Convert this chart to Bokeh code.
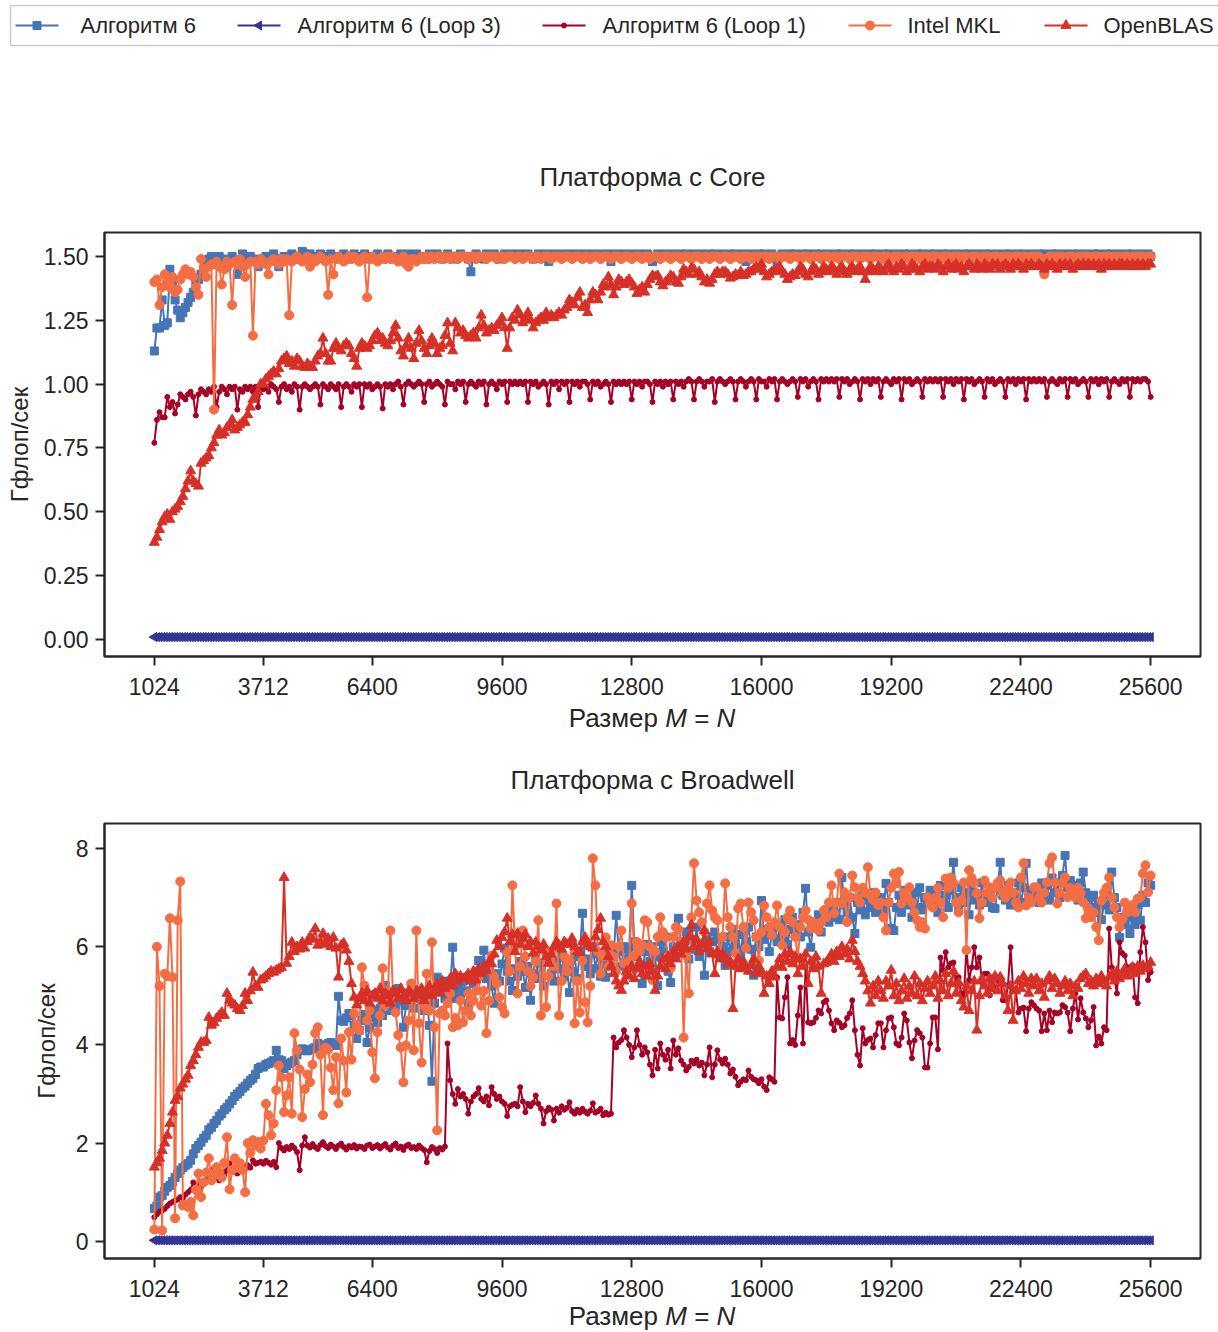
import math
from bokeh.plotting import figure
from bokeh.models import (ColumnDataSource, Range1d, FixedTicker, PrintfTickFormatter, Div)
from bokeh.core.properties import value
from bokeh.layouts import column
from bokeh.embed import file_html
from bokeh.resources import INLINE

FONT = "Liberation Sans"
INK = "#262626"

# Matrix sizes M = N
sizes = list(range(1024, 25601, 64))
x_ticks = [1024, 3712, 6400, 9600, 12800, 16000, 19200, 22400, 25600]

series_names = ["Алгоритм 6", "Алгоритм 6 (Loop 3)", "Алгоритм 6 (Loop 1)", "Intel MKL", "OpenBLAS"]
colors = ["#4575b4", "#313695", "#a50026", "#f46d43", "#d73027"]
markers = ["square", "triangle", "circle", "circle", "triangle"]
marker_sizes = [8, 9, 5, 9, 10]
marker_angles = [0, math.pi / 2, 0, 0, 0]

# ---------------- Core platform, GFlop/s ----------------
core_alg6 = [
    1.13, 1.22, 1.22, 1.33, 1.23, 1.24, 1.45, 1.40, 1.33, 1.29, 1.26, 1.28, 1.30, 1.32, 1.34, 1.36, 1.39, 1.41, 1.43, 1.45,
    1.47, 1.49, 1.50, 1.49, 1.47, 1.50, 1.49, 1.48, 1.46, 1.49, 1.50, 1.48, 1.43, 1.47, 1.51, 1.50, 1.49, 1.50, 1.48, 1.49,
    1.46, 1.48, 1.49, 1.50, 1.49, 1.50, 1.51, 1.49, 1.46, 1.49, 1.50, 1.50, 1.49, 1.51, 1.50, 1.49, 1.50, 1.52, 1.51, 1.50,
    1.51, 1.50, 1.49, 1.50, 1.51, 1.50, 1.49, 1.50, 1.51, 1.50, 1.50, 1.49, 1.50, 1.51, 1.50, 1.49, 1.50, 1.51, 1.50, 1.50,
    1.50, 1.51, 1.50, 1.49, 1.50, 1.50, 1.51, 1.50, 1.49, 1.50, 1.51, 1.50, 1.50, 1.49, 1.50, 1.51, 1.50, 1.50, 1.51, 1.50,
    1.50, 1.51, 1.50, 1.50, 1.49, 1.50, 1.51, 1.50, 1.50, 1.51, 1.50, 1.49, 1.50, 1.51, 1.50, 1.50, 1.49, 1.50, 1.51, 1.50,
    1.50, 1.49, 1.44, 1.50, 1.51, 1.50, 1.50, 1.49, 1.51, 1.50, 1.50, 1.51, 1.50, 1.49, 1.50, 1.51, 1.50, 1.50, 1.51, 1.50,
    1.50, 1.51, 1.50, 1.50, 1.51, 1.50, 1.49, 1.50, 1.51, 1.50, 1.50, 1.51, 1.48, 1.50, 1.51, 1.50, 1.50, 1.51, 1.50, 1.50,
    1.51, 1.50, 1.50, 1.51, 1.50, 1.50, 1.51, 1.50, 1.50, 1.51, 1.50, 1.50, 1.51, 1.50, 1.50, 1.51, 1.48, 1.50, 1.51, 1.50,
    1.50, 1.51, 1.50, 1.50, 1.51, 1.50, 1.50, 1.51, 1.50, 1.50, 1.51, 1.50, 1.48, 1.50, 1.51, 1.50, 1.50, 1.51, 1.50, 1.50,
    1.51, 1.50, 1.50, 1.51, 1.50, 1.51, 1.50, 1.50, 1.51, 1.50, 1.50, 1.51, 1.50, 1.50, 1.51, 1.50, 1.51, 1.50, 1.50, 1.51,
    1.50, 1.50, 1.51, 1.50, 1.51, 1.50, 1.50, 1.51, 1.48, 1.50, 1.51, 1.50, 1.50, 1.51, 1.50, 1.51, 1.50, 1.50, 1.51, 1.50,
    1.48, 1.50, 1.51, 1.50, 1.50, 1.51, 1.50, 1.51, 1.50, 1.50, 1.51, 1.50, 1.51, 1.50, 1.50, 1.51, 1.50, 1.51, 1.50, 1.50,
    1.51, 1.50, 1.50, 1.51, 1.50, 1.51, 1.50, 1.50, 1.51, 1.50, 1.51, 1.50, 1.50, 1.51, 1.50, 1.50, 1.51, 1.50, 1.51, 1.50,
    1.50, 1.51, 1.50, 1.51, 1.50, 1.50, 1.51, 1.50, 1.50, 1.51, 1.50, 1.51, 1.50, 1.50, 1.51, 1.50, 1.51, 1.50, 1.50, 1.51,
    1.50, 1.51, 1.50, 1.50, 1.51, 1.50, 1.51, 1.50, 1.50, 1.51, 1.50, 1.50, 1.51, 1.50, 1.51, 1.50, 1.50, 1.51, 1.50, 1.50,
    1.51, 1.50, 1.51, 1.50, 1.50, 1.51, 1.50, 1.50, 1.51, 1.50, 1.51, 1.50, 1.50, 1.51, 1.50, 1.51, 1.50, 1.50, 1.51, 1.50,
    1.50, 1.51, 1.50, 1.51, 1.50, 1.50, 1.51, 1.50, 1.51, 1.50, 1.50, 1.51, 1.50, 1.50, 1.51, 1.50, 1.51, 1.50, 1.50, 1.51,
    1.50, 1.50, 1.51, 1.50, 1.51, 1.50, 1.50, 1.51, 1.50, 1.51, 1.50, 1.50, 1.51, 1.50, 1.50, 1.51, 1.50, 1.51, 1.50, 1.50,
    1.51, 1.50, 1.50, 1.51, 1.50,
]

core_loop3 = [
    0.009, 0.009, 0.009, 0.009, 0.009, 0.009, 0.009, 0.009, 0.009, 0.009, 0.009, 0.009, 0.009, 0.009, 0.009, 0.009, 0.009, 0.009, 0.009, 0.009,
    0.009, 0.009, 0.009, 0.009, 0.009, 0.009, 0.009, 0.009, 0.009, 0.009, 0.009, 0.009, 0.009, 0.009, 0.009, 0.009, 0.009, 0.009, 0.009, 0.009,
    0.009, 0.009, 0.009, 0.009, 0.009, 0.009, 0.009, 0.009, 0.009, 0.009, 0.009, 0.009, 0.009, 0.009, 0.009, 0.009, 0.009, 0.009, 0.009, 0.009,
    0.009, 0.009, 0.009, 0.009, 0.009, 0.009, 0.009, 0.009, 0.009, 0.009, 0.009, 0.009, 0.009, 0.009, 0.009, 0.009, 0.009, 0.009, 0.009, 0.009,
    0.009, 0.009, 0.009, 0.009, 0.009, 0.009, 0.009, 0.009, 0.009, 0.009, 0.009, 0.009, 0.009, 0.009, 0.009, 0.009, 0.009, 0.009, 0.009, 0.009,
    0.009, 0.009, 0.009, 0.009, 0.009, 0.009, 0.009, 0.009, 0.009, 0.009, 0.009, 0.009, 0.009, 0.009, 0.009, 0.009, 0.009, 0.009, 0.009, 0.009,
    0.009, 0.009, 0.009, 0.009, 0.009, 0.009, 0.009, 0.009, 0.009, 0.009, 0.009, 0.009, 0.009, 0.009, 0.009, 0.009, 0.009, 0.009, 0.009, 0.009,
    0.009, 0.009, 0.009, 0.009, 0.009, 0.009, 0.009, 0.009, 0.009, 0.009, 0.009, 0.009, 0.009, 0.009, 0.009, 0.009, 0.009, 0.009, 0.009, 0.009,
    0.009, 0.009, 0.009, 0.009, 0.009, 0.009, 0.009, 0.009, 0.009, 0.009, 0.009, 0.009, 0.009, 0.009, 0.009, 0.009, 0.009, 0.009, 0.009, 0.009,
    0.009, 0.009, 0.009, 0.009, 0.009, 0.009, 0.009, 0.009, 0.009, 0.009, 0.009, 0.009, 0.009, 0.009, 0.009, 0.009, 0.009, 0.009, 0.009, 0.009,
    0.009, 0.009, 0.009, 0.009, 0.009, 0.009, 0.009, 0.009, 0.009, 0.009, 0.009, 0.009, 0.009, 0.009, 0.009, 0.009, 0.009, 0.009, 0.009, 0.009,
    0.009, 0.009, 0.009, 0.009, 0.009, 0.009, 0.009, 0.009, 0.009, 0.009, 0.009, 0.009, 0.009, 0.009, 0.009, 0.009, 0.009, 0.009, 0.009, 0.009,
    0.009, 0.009, 0.009, 0.009, 0.009, 0.009, 0.009, 0.009, 0.009, 0.009, 0.009, 0.009, 0.009, 0.009, 0.009, 0.009, 0.009, 0.009, 0.009, 0.009,
    0.009, 0.009, 0.009, 0.009, 0.009, 0.009, 0.009, 0.009, 0.009, 0.009, 0.009, 0.009, 0.009, 0.009, 0.009, 0.009, 0.009, 0.009, 0.009, 0.009,
    0.009, 0.009, 0.009, 0.009, 0.009, 0.009, 0.009, 0.009, 0.009, 0.009, 0.009, 0.009, 0.009, 0.009, 0.009, 0.009, 0.009, 0.009, 0.009, 0.009,
    0.009, 0.009, 0.009, 0.009, 0.009, 0.009, 0.009, 0.009, 0.009, 0.009, 0.009, 0.009, 0.009, 0.009, 0.009, 0.009, 0.009, 0.009, 0.009, 0.009,
    0.009, 0.009, 0.009, 0.009, 0.009, 0.009, 0.009, 0.009, 0.009, 0.009, 0.009, 0.009, 0.009, 0.009, 0.009, 0.009, 0.009, 0.009, 0.009, 0.009,
    0.009, 0.009, 0.009, 0.009, 0.009, 0.009, 0.009, 0.009, 0.009, 0.009, 0.009, 0.009, 0.009, 0.009, 0.009, 0.009, 0.009, 0.009, 0.009, 0.009,
    0.009, 0.009, 0.009, 0.009, 0.009, 0.009, 0.009, 0.009, 0.009, 0.009, 0.009, 0.009, 0.009, 0.009, 0.009, 0.009, 0.009, 0.009, 0.009, 0.009,
    0.009, 0.009, 0.009, 0.009, 0.009,
]

core_loop1 = [
    0.77, 0.86, 0.89, 0.87, 0.87, 0.95, 0.91, 0.93, 0.885, 0.92, 0.96, 0.95, 0.94, 0.96, 0.97, 0.95, 0.877, 0.96, 0.98, 0.97,
    0.96, 0.98, 0.97, 0.99, 0.91, 0.97, 0.99, 0.98, 0.96, 0.99, 0.98, 0.99, 0.90, 0.98, 0.97, 0.99, 0.98, 0.99, 0.97, 0.99,
    0.91, 0.99, 0.98, 0.99, 0.97, 1.00, 0.99, 0.98, 0.93, 0.99, 1.00, 0.98, 0.99, 0.97, 1.00, 0.99, 0.90, 0.99, 1.00, 0.99,
    0.98, 0.99, 1.00, 0.99, 0.92, 1.00, 0.99, 0.98, 1.00, 0.99, 0.98, 1.00, 0.91, 0.99, 1.00, 0.99, 0.97, 1.00, 0.99, 1.00,
    0.91, 1.00, 0.99, 1.00, 0.98, 0.99, 1.00, 0.99, 0.905, 1.00, 0.99, 1.00, 0.98, 1.00, 1.01, 0.99, 0.92, 1.00, 1.01, 1.00,
    0.99, 1.00, 1.01, 1.00, 0.93, 1.00, 1.01, 0.99, 1.00, 1.01, 1.00, 0.99, 0.92, 1.01, 1.00, 1.00, 0.98, 1.01, 1.00, 1.01,
    0.93, 1.00, 1.01, 1.00, 0.99, 1.01, 1.00, 1.01, 0.92, 1.00, 1.01, 1.00, 0.98, 1.01, 1.00, 1.01, 0.93, 1.01, 1.00, 1.01,
    1.00, 1.01, 1.00, 1.01, 0.93, 1.01, 1.00, 1.01, 0.99, 1.00, 1.01, 1.00, 0.92, 1.01, 1.00, 1.01, 0.98, 1.01, 1.00, 1.01,
    0.93, 1.01, 1.00, 1.01, 0.99, 1.01, 1.01, 1.00, 0.94, 1.01, 1.00, 1.01, 0.99, 1.00, 1.01, 1.00, 0.93, 1.01, 1.00, 1.01,
    1.00, 1.01, 1.00, 1.01, 0.94, 1.01, 1.00, 1.01, 0.99, 1.01, 1.01, 1.00, 0.93, 1.01, 1.00, 1.01, 0.99, 1.01, 1.00, 1.01,
    0.94, 1.01, 1.00, 1.01, 0.99, 1.01, 1.02, 1.01, 0.94, 1.01, 1.02, 1.01, 0.99, 1.01, 1.01, 1.02, 0.93, 1.01, 1.02, 1.01,
    1.00, 1.01, 1.02, 1.01, 0.94, 1.01, 1.02, 1.01, 0.99, 1.01, 1.02, 1.01, 0.94, 1.02, 1.01, 1.01, 0.99, 1.02, 1.01, 1.02,
    0.94, 1.01, 1.02, 1.01, 1.00, 1.01, 1.02, 1.01, 0.95, 1.02, 1.01, 1.02, 0.99, 1.01, 1.02, 1.01, 0.94, 1.02, 1.01, 1.02,
    1.01, 1.02, 1.01, 1.02, 0.95, 1.02, 1.01, 1.02, 1.00, 1.01, 1.02, 1.01, 0.94, 1.02, 1.01, 1.02, 1.00, 1.02, 1.01, 1.02,
    0.95, 1.01, 1.02, 1.01, 1.00, 1.02, 1.01, 1.02, 0.94, 1.02, 1.01, 1.02, 1.00, 1.01, 1.02, 1.01, 0.95, 1.02, 1.01, 1.02,
    1.01, 1.02, 1.01, 1.02, 0.95, 1.02, 1.01, 1.02, 1.00, 1.02, 1.01, 1.02, 0.94, 1.02, 1.01, 1.02, 1.00, 1.01, 1.02, 1.01,
    0.95, 1.02, 1.01, 1.02, 1.00, 1.01, 1.02, 1.01, 0.95, 1.02, 1.01, 1.02, 1.00, 1.02, 1.01, 1.02, 0.94, 1.02, 1.01, 1.02,
    1.01, 1.02, 1.01, 1.02, 0.95, 1.01, 1.02, 1.01, 1.00, 1.02, 1.01, 1.02, 0.95, 1.02, 1.01, 1.02, 1.00, 1.01, 1.02, 1.01,
    0.95, 1.02, 1.01, 1.02, 1.00, 1.02, 1.01, 1.02, 0.95, 1.01, 1.02, 1.01, 1.00, 1.02, 1.01, 1.02, 0.95, 1.02, 1.01, 1.02,
    1.01, 1.02, 1.02, 1.01, 0.95,
]

core_mkl = [
    1.40, 1.41, 1.31, 1.38, 1.43, 1.40, 1.38, 1.42, 1.36, 1.37, 1.41, 1.43, 1.45, 1.43, 1.44, 1.42, 1.38, 1.35, 1.49, 1.45,
    1.42, 1.46, 1.47, 0.90, 1.48, 1.46, 1.39, 1.45, 1.48, 1.47, 1.31, 1.48, 1.47, 1.49, 1.46, 1.42, 1.47, 1.48, 1.19, 1.48,
    1.47, 1.49, 1.48, 1.47, 1.43, 1.48, 1.49, 1.48, 1.47, 1.49, 1.48, 1.49, 1.27, 1.48, 1.49, 1.50, 1.49, 1.48, 1.49, 1.50,
    1.46, 1.49, 1.48, 1.49, 1.50, 1.49, 1.48, 1.35, 1.49, 1.43, 1.49, 1.50, 1.49, 1.48, 1.49, 1.50, 1.49, 1.50, 1.49, 1.48,
    1.49, 1.50, 1.34, 1.49, 1.50, 1.49, 1.48, 1.49, 1.50, 1.49, 1.50, 1.49, 1.50, 1.49, 1.48, 1.49, 1.50, 1.47, 1.46, 1.49,
    1.49, 1.48, 1.49, 1.50, 1.49, 1.50, 1.49, 1.50, 1.49, 1.50, 1.50, 1.49, 1.50, 1.50, 1.49, 1.50, 1.50, 1.49, 1.50, 1.50,
    1.50, 1.49, 1.50, 1.50, 1.49, 1.50, 1.50, 1.50, 1.49, 1.50, 1.50, 1.50, 1.49, 1.50, 1.50, 1.49, 1.50, 1.50, 1.50, 1.49,
    1.50, 1.50, 1.49, 1.50, 1.50, 1.50, 1.49, 1.50, 1.50, 1.49, 1.50, 1.50, 1.50, 1.49, 1.50, 1.50, 1.50, 1.49, 1.50, 1.50,
    1.50, 1.49, 1.50, 1.50, 1.50, 1.49, 1.50, 1.50, 1.49, 1.50, 1.50, 1.50, 1.49, 1.50, 1.50, 1.50, 1.49, 1.50, 1.50, 1.50,
    1.49, 1.50, 1.50, 1.50, 1.49, 1.50, 1.50, 1.50, 1.49, 1.50, 1.50, 1.49, 1.50, 1.50, 1.50, 1.49, 1.50, 1.50, 1.50, 1.49,
    1.50, 1.50, 1.50, 1.49, 1.50, 1.50, 1.50, 1.49, 1.50, 1.50, 1.50, 1.49, 1.50, 1.50, 1.49, 1.50, 1.50, 1.50, 1.49, 1.50,
    1.50, 1.50, 1.49, 1.50, 1.50, 1.50, 1.49, 1.50, 1.50, 1.50, 1.49, 1.50, 1.50, 1.50, 1.49, 1.50, 1.50, 1.49, 1.50, 1.50,
    1.50, 1.49, 1.50, 1.50, 1.50, 1.49, 1.50, 1.50, 1.50, 1.49, 1.50, 1.50, 1.50, 1.49, 1.50, 1.50, 1.50, 1.49, 1.50, 1.50,
    1.50, 1.49, 1.50, 1.50, 1.49, 1.50, 1.50, 1.50, 1.49, 1.50, 1.50, 1.50, 1.49, 1.50, 1.50, 1.50, 1.49, 1.50, 1.50, 1.50,
    1.49, 1.50, 1.50, 1.50, 1.49, 1.50, 1.50, 1.50, 1.49, 1.50, 1.50, 1.49, 1.50, 1.50, 1.50, 1.49, 1.50, 1.50, 1.50, 1.49,
    1.50, 1.50, 1.50, 1.49, 1.50, 1.50, 1.50, 1.49, 1.50, 1.50, 1.50, 1.49, 1.50, 1.50, 1.49, 1.50, 1.50, 1.50, 1.49, 1.50,
    1.50, 1.50, 1.49, 1.50, 1.50, 1.50, 1.49, 1.50, 1.50, 1.50, 1.49, 1.50, 1.50, 1.50, 1.49, 1.50, 1.50, 1.49, 1.50, 1.50,
    1.50, 1.50, 1.49, 1.43, 1.49, 1.50, 1.50, 1.49, 1.50, 1.50, 1.50, 1.49, 1.50, 1.50, 1.50, 1.49, 1.50, 1.50, 1.50, 1.50,
    1.50, 1.49, 1.50, 1.50, 1.50, 1.49, 1.50, 1.50, 1.50, 1.49, 1.50, 1.50, 1.49, 1.50, 1.50, 1.50, 1.49, 1.50, 1.50, 1.50,
    1.50, 1.50, 1.49, 1.50, 1.50,
]

core_blas = [
    0.38, 0.40, 0.43, 0.46, 0.48, 0.49, 0.47, 0.50, 0.51, 0.52, 0.54, 0.56, 0.59, 0.62, 0.66, 0.62, 0.61, 0.60, 0.69, 0.70,
    0.71, 0.72, 0.75, 0.77, 0.80, 0.82, 0.80, 0.81, 0.83, 0.84, 0.86, 0.82, 0.83, 0.84, 0.85, 0.85, 0.88, 0.91, 0.94, 0.95,
    0.97, 1.00, 1.00, 1.02, 1.03, 1.04, 1.05, 1.04, 1.06, 1.09, 1.10, 1.11, 1.08, 1.09, 1.07, 1.10, 1.09, 1.07, 1.065, 1.08,
    1.07, 1.065, 1.09, 1.11, 1.12, 1.18, 1.12, 1.09, 1.09, 1.14, 1.16, 1.14, 1.13, 1.15, 1.16, 1.15, 1.12, 1.10, 1.07, 1.14,
    1.16, 1.15, 1.14, 1.15, 1.17, 1.19, 1.20, 1.17, 1.18, 1.16, 1.15, 1.17, 1.20, 1.23, 1.18, 1.13, 1.11, 1.15, 1.18, 1.14,
    1.10, 1.16, 1.21, 1.17, 1.14, 1.12, 1.15, 1.18, 1.16, 1.12, 1.14, 1.15, 1.19, 1.24, 1.16, 1.13, 1.24, 1.22, 1.20, 1.21,
    1.19, 1.18, 1.19, 1.20, 1.18, 1.22, 1.27, 1.23, 1.20, 1.21, 1.22, 1.21, 1.23, 1.24, 1.26, 1.22, 1.14, 1.22, 1.26, 1.25,
    1.29, 1.27, 1.24, 1.26, 1.28, 1.25, 1.22, 1.24, 1.25, 1.26, 1.25, 1.28, 1.26, 1.27, 1.26, 1.27, 1.28, 1.27, 1.29, 1.30,
    1.33, 1.32, 1.31, 1.34, 1.36, 1.30, 1.31, 1.28, 1.33, 1.36, 1.35, 1.33, 1.36, 1.39, 1.38, 1.42, 1.39, 1.35, 1.38, 1.41,
    1.40, 1.39, 1.40, 1.41, 1.395, 1.38, 1.355, 1.37, 1.38, 1.36, 1.39, 1.41, 1.425, 1.42, 1.425, 1.40, 1.385, 1.40, 1.41, 1.425,
    1.42, 1.40, 1.395, 1.42, 1.45, 1.44, 1.43, 1.455, 1.45, 1.43, 1.44, 1.42, 1.40, 1.41, 1.395, 1.41, 1.43, 1.44, 1.43, 1.44,
    1.44, 1.43, 1.415, 1.42, 1.43, 1.425, 1.44, 1.425, 1.43, 1.44, 1.44, 1.45, 1.46, 1.45, 1.47, 1.44, 1.42, 1.43, 1.44, 1.445,
    1.45, 1.46, 1.44, 1.43, 1.41, 1.42, 1.43, 1.425, 1.44, 1.46, 1.45, 1.43, 1.42, 1.44, 1.46, 1.45, 1.43, 1.44, 1.46, 1.45,
    1.44, 1.46, 1.45, 1.43, 1.45, 1.46, 1.44, 1.43, 1.45, 1.46, 1.44, 1.45, 1.46, 1.44, 1.41, 1.44, 1.46, 1.45, 1.44, 1.46,
    1.45, 1.44, 1.46, 1.47, 1.45, 1.44, 1.46, 1.45, 1.47, 1.46, 1.44, 1.45, 1.47, 1.46, 1.45, 1.44, 1.46, 1.47, 1.45, 1.46,
    1.46, 1.45, 1.47, 1.46, 1.44, 1.46, 1.47, 1.45, 1.46, 1.47, 1.45, 1.46, 1.44, 1.46, 1.47, 1.46, 1.45, 1.47, 1.46, 1.45,
    1.47, 1.46, 1.45, 1.47, 1.46, 1.47, 1.45, 1.46, 1.47, 1.46, 1.45, 1.47, 1.46, 1.47, 1.46, 1.45, 1.47, 1.46, 1.47, 1.46,
    1.46, 1.47, 1.46, 1.45, 1.47, 1.46, 1.47, 1.46, 1.45, 1.47, 1.46, 1.47, 1.46, 1.47, 1.45, 1.46, 1.47, 1.46, 1.47, 1.46,
    1.47, 1.46, 1.47, 1.46, 1.47, 1.45, 1.47, 1.46, 1.47, 1.46, 1.47, 1.46, 1.47, 1.47, 1.46, 1.47, 1.46, 1.47, 1.46, 1.47,
    1.46, 1.47, 1.46, 1.47, 1.47,
]

# ---------------- Broadwell platform, GFlop/s ----------------
bdw_alg6 = [
    0.67, 0.72, 0.90, 0.93, 1.02, 1.10, 1.14, 1.22, 1.30, 1.38, 1.45, 1.50, 1.55, 1.58, 1.65, 1.78, 1.89, 1.95, 2.02, 2.10,
    2.16, 2.27, 2.32, 2.40, 2.46, 2.55, 2.60, 2.68, 2.73, 2.80, 2.87, 2.95, 3.00, 3.05, 3.12, 3.16, 3.22, 3.28, 3.32, 3.40,
    3.52, 3.55, 3.55, 3.60, 3.62, 3.65, 3.68, 3.89, 3.70, 3.68, 3.52, 3.58, 3.62, 3.65, 3.68, 3.80, 3.90, 3.92, 3.89, 3.88,
    3.90, 3.92, 3.95, 4.03, 4.00, 3.99, 3.97, 4.03, 4.05, 4.00, 3.99, 4.99, 4.50, 4.48, 4.55, 4.64, 4.60, 4.40, 4.13, 4.30,
    4.50, 4.62, 4.05, 4.35, 4.55, 4.70, 4.45, 4.74, 4.60, 5.21, 4.85, 4.70, 4.95, 4.80, 5.15, 4.90, 4.36, 4.80, 5.05, 4.90,
    4.75, 4.95, 5.11, 4.90, 4.70, 5.00, 4.40, 3.26, 4.85, 5.38, 5.10, 5.20, 4.95, 5.30, 5.15, 5.99, 4.95, 5.20, 5.05, 5.30,
    5.10, 4.85, 5.40, 5.25, 5.50, 5.72, 5.40, 5.93, 5.35, 5.60, 5.20, 4.85, 5.45, 5.30, 5.65, 5.97, 5.50, 5.30, 5.11, 5.55,
    5.40, 5.70, 5.50, 5.17, 5.60, 4.91, 5.45, 5.80, 5.35, 5.65, 5.20, 5.90, 5.76, 5.45, 5.30, 5.70, 5.55, 5.85, 5.40, 5.60,
    5.07, 5.50, 5.80, 5.35, 5.90, 6.68, 5.60, 5.75, 5.45, 6.00, 5.55, 5.85, 5.40, 5.70, 5.38, 5.95, 5.60, 5.80, 6.64, 5.90,
    5.60, 6.00, 5.75, 5.95, 7.25, 6.10, 5.80, 5.60, 5.25, 5.90, 6.05, 5.70, 6.00, 5.80, 5.21, 6.10, 5.90, 6.20, 5.50, 5.27,
    6.00, 5.80, 6.58, 6.10, 5.90, 6.30, 5.75, 6.15, 5.95, 6.40, 5.80, 6.05, 5.42, 6.20, 5.90, 6.10, 6.30, 5.85, 6.15, 6.00,
    5.62, 6.20, 5.90, 6.35, 6.05, 6.25, 5.85, 6.30, 6.10, 6.40, 5.95, 5.42, 6.20, 6.00, 6.94, 6.15, 6.35, 5.90, 6.25, 6.45,
    6.10, 6.40, 6.20, 6.55, 6.05, 6.35, 6.60, 6.25, 6.45, 6.20, 6.70, 7.19, 6.30, 5.99, 6.50, 6.40, 6.65, 6.30, 6.55, 6.75,
    6.50, 6.80, 6.60, 6.90, 6.55, 7.41, 6.85, 6.70, 7.00, 6.60, 6.27, 6.90, 6.75, 7.05, 6.65, 6.95, 6.80, 7.10, 6.70, 6.85,
    7.00, 6.75, 7.29, 6.90, 6.37, 6.33, 6.80, 7.05, 6.70, 7.15, 6.85, 6.95, 6.60, 7.10, 6.80, 7.20, 6.75, 7.00, 6.90, 7.15,
    6.85, 7.10, 6.70, 7.25, 6.95, 7.05, 6.80, 7.15, 7.72, 7.00, 6.75, 7.20, 6.90, 7.10, 6.65, 7.25, 6.95, 7.05, 6.85, 7.30,
    7.00, 6.90, 7.15, 6.80, 6.78, 7.20, 7.72, 7.05, 6.95, 7.25, 6.85, 7.10, 7.00, 7.30, 6.90, 7.20, 7.70, 7.00, 7.15, 6.95,
    7.20, 6.90, 7.30, 7.05, 7.25, 6.95, 7.40, 7.10, 7.30, 7.00, 7.45, 7.86, 7.20, 7.35, 7.05, 7.25, 6.95, 7.30, 7.52, 7.10,
    7.00, 6.80, 7.05, 6.70, 6.90, 6.55, 6.85, 7.10, 6.75, 7.52, 7.00, 6.80, 6.19, 6.60, 6.45, 6.70, 6.27, 6.60, 6.45, 6.85,
    6.54, 7.05, 6.90, 7.30, 7.25,
]

bdw_loop3 = [
    0.02, 0.02, 0.02, 0.02, 0.02, 0.02, 0.02, 0.02, 0.02, 0.02, 0.02, 0.02, 0.02, 0.02, 0.02, 0.02, 0.02, 0.02, 0.02, 0.02,
    0.02, 0.02, 0.02, 0.02, 0.02, 0.02, 0.02, 0.02, 0.02, 0.02, 0.02, 0.02, 0.02, 0.02, 0.02, 0.02, 0.02, 0.02, 0.02, 0.02,
    0.02, 0.02, 0.02, 0.02, 0.02, 0.02, 0.02, 0.02, 0.02, 0.02, 0.02, 0.02, 0.02, 0.02, 0.02, 0.02, 0.02, 0.02, 0.02, 0.02,
    0.02, 0.02, 0.02, 0.02, 0.02, 0.02, 0.02, 0.02, 0.02, 0.02, 0.02, 0.02, 0.02, 0.02, 0.02, 0.02, 0.02, 0.02, 0.02, 0.02,
    0.02, 0.02, 0.02, 0.02, 0.02, 0.02, 0.02, 0.02, 0.02, 0.02, 0.02, 0.02, 0.02, 0.02, 0.02, 0.02, 0.02, 0.02, 0.02, 0.02,
    0.02, 0.02, 0.02, 0.02, 0.02, 0.02, 0.02, 0.02, 0.02, 0.02, 0.02, 0.02, 0.02, 0.02, 0.02, 0.02, 0.02, 0.02, 0.02, 0.02,
    0.02, 0.02, 0.02, 0.02, 0.02, 0.02, 0.02, 0.02, 0.02, 0.02, 0.02, 0.02, 0.02, 0.02, 0.02, 0.02, 0.02, 0.02, 0.02, 0.02,
    0.02, 0.02, 0.02, 0.02, 0.02, 0.02, 0.02, 0.02, 0.02, 0.02, 0.02, 0.02, 0.02, 0.02, 0.02, 0.02, 0.02, 0.02, 0.02, 0.02,
    0.02, 0.02, 0.02, 0.02, 0.02, 0.02, 0.02, 0.02, 0.02, 0.02, 0.02, 0.02, 0.02, 0.02, 0.02, 0.02, 0.02, 0.02, 0.02, 0.02,
    0.02, 0.02, 0.02, 0.02, 0.02, 0.02, 0.02, 0.02, 0.02, 0.02, 0.02, 0.02, 0.02, 0.02, 0.02, 0.02, 0.02, 0.02, 0.02, 0.02,
    0.02, 0.02, 0.02, 0.02, 0.02, 0.02, 0.02, 0.02, 0.02, 0.02, 0.02, 0.02, 0.02, 0.02, 0.02, 0.02, 0.02, 0.02, 0.02, 0.02,
    0.02, 0.02, 0.02, 0.02, 0.02, 0.02, 0.02, 0.02, 0.02, 0.02, 0.02, 0.02, 0.02, 0.02, 0.02, 0.02, 0.02, 0.02, 0.02, 0.02,
    0.02, 0.02, 0.02, 0.02, 0.02, 0.02, 0.02, 0.02, 0.02, 0.02, 0.02, 0.02, 0.02, 0.02, 0.02, 0.02, 0.02, 0.02, 0.02, 0.02,
    0.02, 0.02, 0.02, 0.02, 0.02, 0.02, 0.02, 0.02, 0.02, 0.02, 0.02, 0.02, 0.02, 0.02, 0.02, 0.02, 0.02, 0.02, 0.02, 0.02,
    0.02, 0.02, 0.02, 0.02, 0.02, 0.02, 0.02, 0.02, 0.02, 0.02, 0.02, 0.02, 0.02, 0.02, 0.02, 0.02, 0.02, 0.02, 0.02, 0.02,
    0.02, 0.02, 0.02, 0.02, 0.02, 0.02, 0.02, 0.02, 0.02, 0.02, 0.02, 0.02, 0.02, 0.02, 0.02, 0.02, 0.02, 0.02, 0.02, 0.02,
    0.02, 0.02, 0.02, 0.02, 0.02, 0.02, 0.02, 0.02, 0.02, 0.02, 0.02, 0.02, 0.02, 0.02, 0.02, 0.02, 0.02, 0.02, 0.02, 0.02,
    0.02, 0.02, 0.02, 0.02, 0.02, 0.02, 0.02, 0.02, 0.02, 0.02, 0.02, 0.02, 0.02, 0.02, 0.02, 0.02, 0.02, 0.02, 0.02, 0.02,
    0.02, 0.02, 0.02, 0.02, 0.02, 0.02, 0.02, 0.02, 0.02, 0.02, 0.02, 0.02, 0.02, 0.02, 0.02, 0.02, 0.02, 0.02, 0.02, 0.02,
    0.02, 0.02, 0.02, 0.02, 0.02,
]

bdw_loop1 = [
    0.49, 0.55, 0.60, 0.63, 0.66, 0.72, 0.77, 0.80, 0.83, 0.85, 0.90, 0.88, 0.95, 1.00, 1.05, 1.20, 1.08, 1.15, 1.10, 1.22,
    1.25, 1.30, 1.35, 1.49, 1.30, 1.24, 1.40, 1.35, 1.45, 1.59, 1.50, 1.42, 1.38, 1.45, 1.52, 1.48, 1.55, 1.50, 1.65, 1.58,
    1.60, 1.62, 1.58, 1.64, 1.60, 1.56, 1.62, 1.51, 2.00, 1.90, 1.85, 1.92, 1.88, 1.95, 1.90, 1.82, 1.45, 1.95, 2.12, 1.95,
    1.91, 1.98, 1.92, 1.88, 1.96, 2.02, 1.94, 1.90, 1.97, 1.93, 1.88, 1.95, 1.99, 1.92, 1.87, 1.94, 1.91, 1.96, 1.89, 1.93,
    1.92, 1.88, 1.95, 1.97, 1.90, 1.93, 1.96, 1.89, 1.94, 1.98, 1.91, 1.87, 1.95, 1.99, 1.90, 1.93, 1.86, 1.94, 1.97, 1.90,
    1.92, 1.88, 1.95, 1.90, 1.86, 1.61, 1.84, 1.92, 1.88, 1.80, 1.90, 1.87, 1.93, 4.03, 3.28, 3.00, 2.80, 3.10, 2.95, 3.00,
    2.90, 2.60, 2.85, 2.95, 3.00, 3.12, 2.90, 2.85, 2.95, 2.77, 3.14, 3.00, 2.90, 2.95, 2.85, 2.80, 2.55, 2.75, 2.78, 2.80,
    2.75, 3.14, 2.85, 2.63, 2.80, 2.75, 2.82, 2.97, 2.80, 2.70, 2.40, 2.65, 2.72, 2.68, 2.46, 2.70, 2.62, 2.75, 2.68, 2.72,
    2.83, 2.65, 2.60, 2.68, 2.62, 2.70, 2.64, 2.60, 2.66, 2.81, 2.62, 2.65, 2.70, 2.57, 2.62, 2.58, 2.60, 4.15, 3.95, 4.05,
    4.10, 4.30, 4.15, 4.00, 3.75, 3.95, 4.30, 4.00, 3.80, 3.95, 3.85, 3.60, 3.38, 3.90, 3.52, 4.03, 3.80, 3.70, 3.90, 3.52,
    4.09, 3.80, 3.93, 3.68, 3.60, 3.48, 3.55, 3.68, 3.62, 3.70, 3.58, 3.64, 3.38, 3.60, 3.95, 3.34, 3.60, 3.89, 3.70, 3.62,
    3.72, 3.60, 3.42, 3.50, 3.35, 3.18, 3.25, 3.30, 3.28, 3.48, 3.35, 3.30, 3.28, 3.22, 3.30, 3.15, 3.08, 3.34, 3.30, 3.25,
    5.38, 4.56, 4.54, 4.97, 5.38, 4.03, 4.10, 4.00, 4.60, 5.17, 4.03, 5.58, 4.46, 4.44, 4.46, 4.55, 4.70, 4.64, 4.87, 4.91,
    4.70, 4.44, 4.30, 4.50, 4.45, 4.36, 4.40, 4.55, 4.64, 4.91, 4.30, 3.80, 3.58, 4.34, 4.03, 4.10, 4.13, 3.95, 4.20, 4.44,
    4.44, 3.95, 4.30, 4.54, 4.56, 4.36, 4.03, 3.99, 4.15, 4.64, 4.50, 4.05, 3.73, 4.09, 4.30, 4.24, 4.15, 3.54, 3.54, 4.03,
    4.56, 4.56, 3.91, 5.78, 5.52, 5.89, 5.58, 5.66, 5.68, 5.25, 5.38, 5.05, 5.01, 5.97, 5.32, 5.58, 5.99, 5.58, 5.78, 5.27,
    5.45, 5.45, 5.01, 5.38, 5.11, 5.32, 5.38, 4.91, 4.91, 5.21, 5.99, 5.11, 5.11, 4.66, 4.74, 4.76, 4.28, 4.74, 4.87, 4.81,
    4.74, 4.70, 4.28, 4.64, 4.30, 4.70, 4.46, 4.66, 4.64, 4.66, 4.81, 4.77, 4.66, 4.28, 4.74, 5.05, 4.52, 4.95, 4.66, 4.54,
    4.36, 4.50, 4.77, 3.99, 4.17, 4.03, 4.36, 4.30, 6.37, 5.58, 5.36, 5.05, 6.09, 5.87, 5.82, 5.58, 5.58, 5.62, 4.97, 4.85,
    5.89, 6.40, 6.09, 5.32, 5.48,
]

bdw_mkl = [
    0.24, 6.00, 5.20, 0.22, 5.45, 5.40, 6.58, 5.38, 0.47, 6.54, 7.33, 0.73, 0.74, 0.70, 0.80, 0.53, 1.05, 1.38, 0.90, 1.20,
    1.40, 1.69, 1.24, 1.35, 1.51, 1.40, 1.30, 1.60, 2.12, 1.06, 1.45, 1.69, 1.50, 1.59, 1.45, 1.00, 2.00, 1.80, 2.06, 1.95,
    2.02, 1.89, 2.05, 2.80, 2.57, 2.16, 2.40, 3.08, 3.58, 3.34, 2.63, 2.97, 3.34, 2.60, 4.24, 3.89, 3.50, 2.53, 3.10, 3.40,
    3.24, 3.60, 4.24, 4.36, 3.80, 2.57, 3.95, 3.90, 3.54, 3.08, 3.75, 2.81, 4.13, 3.68, 3.03, 4.26, 3.70, 4.64, 4.40, 4.30,
    5.58, 5.21, 4.50, 4.70, 3.85, 3.32, 4.26, 4.60, 5.56, 4.80, 5.10, 6.33, 5.00, 4.66, 4.20, 3.95, 3.24, 3.99, 4.50, 5.25,
    3.89, 6.33, 4.44, 3.64, 4.80, 5.45, 4.70, 6.09, 4.36, 2.26, 4.64, 4.70, 4.60, 4.85, 5.05, 4.36, 4.55, 4.40, 4.90, 4.46,
    4.70, 5.05, 4.60, 4.90, 5.10, 5.38, 4.80, 5.10, 4.24, 4.90, 5.82, 5.40, 5.25, 4.97, 4.77, 4.64, 5.89, 5.50, 7.25, 5.99,
    5.05, 5.60, 6.33, 5.80, 5.50, 5.20, 5.38, 5.70, 6.54, 4.60, 5.97, 4.77, 5.40, 5.90, 5.60, 6.88, 4.60, 5.30, 5.80, 5.50,
    5.70, 6.09, 4.44, 5.30, 4.66, 5.72, 4.87, 4.46, 5.20, 7.80, 7.25, 5.90, 5.45, 5.80, 6.19, 5.60, 6.03, 5.80, 5.50, 6.00,
    6.33, 5.66, 5.45, 5.70, 6.88, 5.82, 6.10, 5.90, 6.03, 6.54, 6.50, 6.00, 5.32, 5.90, 6.20, 6.60, 6.30, 6.19, 5.80, 5.56,
    6.20, 6.40, 6.35, 6.10, 4.15, 5.82, 5.05, 6.60, 7.70, 6.94, 6.70, 6.50, 6.30, 6.88, 7.25, 6.74, 6.60, 6.54, 5.87, 6.20,
    7.29, 6.60, 6.40, 6.20, 5.87, 6.78, 6.88, 6.40, 5.97, 6.90, 6.70, 6.54, 6.20, 5.72, 6.30, 6.84, 6.60, 6.40, 6.23, 6.50,
    6.84, 6.40, 6.03, 6.30, 6.60, 6.74, 6.50, 6.20, 5.78, 6.40, 6.60, 6.74, 6.55, 6.37, 6.50, 6.40, 6.33, 6.50, 6.74, 6.60,
    6.90, 7.25, 6.68, 6.90, 7.49, 6.88, 7.11, 6.50, 7.00, 7.45, 7.21, 7.00, 6.90, 7.20, 7.10, 7.62, 7.05, 6.95, 7.10, 6.85,
    6.90, 6.60, 6.33, 6.90, 7.20, 7.49, 7.29, 7.52, 6.88, 7.10, 7.00, 7.21, 6.90, 6.70, 6.54, 6.40, 6.50, 6.37, 7.01, 6.90,
    6.80, 7.00, 7.20, 6.90, 6.60, 7.39, 7.20, 7.41, 7.30, 6.90, 6.70, 6.94, 7.31, 5.93, 7.56, 7.40, 7.30, 7.09, 6.58, 6.90,
    7.35, 7.10, 7.21, 7.00, 7.20, 7.30, 7.35, 7.10, 7.00, 7.20, 7.31, 7.10, 6.90, 6.80, 7.41, 7.70, 6.84, 7.00, 6.90, 7.21,
    7.21, 7.00, 6.90, 7.10, 7.31, 7.70, 7.82, 7.30, 6.88, 7.10, 7.30, 7.41, 7.01, 7.20, 7.10, 7.00, 7.20, 7.09, 6.90, 6.58,
    6.78, 6.60, 6.70, 6.40, 6.13, 6.94, 7.10, 7.20, 7.41, 7.00, 6.80, 6.60, 6.40, 6.55, 6.90, 6.70, 6.80, 6.85, 6.70, 6.98,
    7.00, 7.49, 7.66, 7.11, 7.45,
]

bdw_blas = [
    1.51, 1.60, 1.69, 1.85, 2.00, 2.16, 2.40, 2.63, 2.87, 2.95, 3.12, 3.20, 3.30, 3.38, 3.58, 3.68, 3.80, 3.95, 4.05, 4.05,
    4.09, 4.56, 4.40, 4.45, 4.54, 4.60, 4.66, 4.60, 5.05, 4.91, 4.85, 4.81, 4.74, 4.70, 4.80, 5.05, 4.90, 5.10, 5.48, 5.20,
    5.17, 5.32, 5.35, 5.40, 5.45, 5.50, 5.48, 5.52, 5.55, 5.58, 7.41, 5.66, 5.80, 6.09, 5.90, 6.00, 5.95, 6.09, 5.97, 6.10,
    6.20, 6.15, 6.37, 6.03, 6.10, 6.27, 6.05, 6.17, 6.00, 6.19, 5.97, 5.38, 6.03, 6.07, 5.93, 5.70, 5.25, 4.97, 4.81, 4.95,
    5.05, 4.90, 5.10, 4.85, 5.00, 5.05, 4.95, 5.15, 4.90, 5.05, 5.00, 4.85, 5.10, 5.05, 4.95, 5.15, 5.00, 4.90, 5.10, 5.05,
    4.95, 5.10, 5.00, 5.15, 4.90, 5.05, 5.20, 5.00, 5.10, 5.25, 5.05, 5.30, 5.15, 5.25, 5.35, 5.20, 5.45, 5.30, 5.40, 5.35,
    5.38, 5.45, 5.30, 5.50, 5.32, 5.55, 5.45, 5.60, 5.52, 5.70, 5.65, 5.85, 6.13, 6.00, 6.19, 6.30, 6.58, 6.10, 6.25, 5.90,
    6.27, 6.05, 6.17, 6.25, 6.00, 6.10, 5.87, 6.09, 6.00, 5.93, 6.05, 5.80, 5.66, 5.85, 6.00, 6.10, 6.03, 5.95, 6.10, 6.05,
    6.05, 6.17, 6.00, 5.90, 5.88, 6.10, 6.19, 6.05, 6.00, 5.97, 6.20, 6.35, 6.58, 6.10, 6.00, 5.80, 5.60, 5.45, 5.30, 5.20,
    5.11, 5.30, 5.50, 5.40, 5.60, 5.35, 5.55, 5.70, 5.45, 5.60, 5.40, 5.65, 5.50, 5.11, 5.40, 5.60, 5.75, 5.55, 5.80, 5.65,
    5.90, 5.75, 6.00, 5.85, 6.10, 5.95, 6.20, 6.44, 6.00, 6.15, 5.90, 6.05, 6.33, 5.95, 6.10, 5.85, 5.45, 5.90, 5.75, 5.85,
    5.80, 5.65, 5.70, 4.74, 5.60, 5.75, 5.55, 5.70, 5.60, 5.50, 5.62, 5.75, 5.45, 5.60, 5.50, 5.05, 5.40, 5.25, 5.50, 5.38,
    5.60, 5.75, 5.58, 5.85, 5.70, 5.90, 5.65, 5.80, 5.45, 5.75, 5.60, 5.85, 5.25, 5.70, 5.55, 5.80, 5.60, 5.05, 5.65, 5.68,
    5.75, 5.85, 5.70, 5.90, 5.80, 6.00, 5.85, 5.95, 5.75, 6.13, 5.90, 5.70, 5.60, 5.45, 5.30, 5.10, 4.85, 5.20, 5.00, 5.30,
    5.10, 4.95, 5.30, 5.20, 5.52, 5.00, 5.25, 4.90, 5.10, 5.35, 4.95, 5.20, 5.05, 5.40, 5.00, 5.25, 4.90, 5.15, 5.30, 5.05,
    5.20, 5.40, 4.95, 5.30, 5.10, 5.45, 5.00, 5.25, 5.50, 5.05, 5.27, 4.90, 4.77, 5.20, 4.70, 5.10, 5.30, 4.30, 5.00, 5.35,
    5.20, 5.05, 5.35, 5.15, 5.40, 5.10, 5.38, 5.25, 5.00, 4.70, 5.20, 4.50, 5.10, 5.30, 5.15, 5.40, 5.25, 5.05, 5.35, 5.20,
    5.35, 5.10, 5.25, 4.97, 5.30, 5.40, 5.15, 5.35, 5.25, 5.05, 5.20, 5.30, 5.10, 5.25, 5.00, 5.20, 5.15, 5.35, 5.40, 5.45,
    5.25, 5.30, 5.20, 5.35, 5.25, 5.40, 5.30, 5.20, 5.38, 5.45, 5.30, 5.50, 5.35, 5.45, 5.55, 5.40, 5.50, 5.58, 5.45, 5.60,
    5.50, 5.62, 5.55, 5.60, 5.68,
]

core_series = [core_alg6, core_loop3, core_loop1, core_mkl, core_blas]
bdw_series = [bdw_alg6, bdw_loop3, bdw_loop1, bdw_mkl, bdw_blas]

PAGE_W = 1218
FRAME_L = 104
FRAME_R = 18
FRAME_W = PAGE_W - FRAME_L - FRAME_R


def make_panel(series, title, y_lo, y_hi, y_ticks, y_fmt, height, top, frame_h,
               title_standoff, ylab_standoff):
    p = figure(width=PAGE_W, height=height,
               x_range=Range1d(-205, 26829), y_range=Range1d(y_lo, y_hi),
               output_backend="svg", toolbar_location=None,
               min_border_left=FRAME_L, min_border_right=FRAME_R,
               min_border_top=top, min_border_bottom=height - top - frame_h)
    p.background_fill_color = "white"
    p.border_fill_color = "white"
    p.xgrid.visible = False
    p.ygrid.visible = False
    p.outline_line_color = INK
    p.outline_line_width = 2
    p.outline_line_alpha = 1.0

    p.title.text = title
    p.title.align = "center"
    p.title.text_font = FONT
    p.title.text_font_size = "26px"
    p.title.text_font_style = "normal"
    p.title.text_color = INK
    p.title.standoff = title_standoff

    for ax in (p.xaxis[0], p.yaxis[0]):
        ax.axis_line_color = INK
        ax.axis_line_width = 2
        ax.major_tick_line_color = INK
        ax.major_tick_line_width = 2
        ax.major_tick_out = 9
        ax.major_tick_in = 0
        ax.minor_tick_line_color = None
        ax.major_label_text_font = FONT
        ax.major_label_text_font_size = "23px"
        ax.major_label_text_color = INK
    p.xaxis.major_label_standoff = 12
    p.yaxis.major_label_standoff = 7
    p.xaxis.ticker = FixedTicker(ticks=x_ticks)
    p.xaxis.formatter = PrintfTickFormatter(format="%d")
    p.yaxis.ticker = FixedTicker(ticks=y_ticks)
    p.yaxis.formatter = PrintfTickFormatter(format=y_fmt)

    p.yaxis.axis_label = "Гфлоп/сек"
    p.yaxis.axis_label_text_font = FONT
    p.yaxis.axis_label_text_font_size = "24px"
    p.yaxis.axis_label_text_font_style = "normal"
    p.yaxis.axis_label_text_color = INK
    p.yaxis.axis_label_standoff = ylab_standoff

    for vals, col, mk, ms, ang in zip(series, colors, markers, marker_sizes, marker_angles):
        src = ColumnDataSource(dict(x=sizes[:len(vals)], y=vals))
        p.line("x", "y", source=src, line_color=col, line_width=2)
        p.scatter("x", "y", source=src, marker=mk, size=ms, angle=ang,
                  fill_color=col, line_color=col)
    return p


def x_label(height, line_h):
    return Div(text="Размер <i>M</i>&nbsp;=&nbsp;<i>N</i>", width=FRAME_W, height=height,
               margin=(0, 0, 0, FRAME_L),
               styles={"font-family": FONT, "font-size": "26px", "color": INK,
                       "text-align": "center", "line-height": f"{line_h}px",
                       "white-space": "nowrap", "width": f"{FRAME_W}px"})


# legend strip across the top (screen-like coordinates: x to the right, y downward)
lg = figure(width=PAGE_W, height=50, x_range=Range1d(0, PAGE_W), y_range=Range1d(50, 0),
            output_backend="svg", toolbar_location=None, min_border=0,
            x_axis_type=None, y_axis_type=None)
try:
    lg.frame_align = False
except Exception:
    pass
lg.outline_line_color = None
lg.background_fill_color = "white"
lg.border_fill_color = "white"

legend_swatch_x = [15, 237, 542, 848, 1044]
legend_text_x = [80, 297, 602, 907, 1103]
swatch_len = 43
row_y = 25
lg.quad(left=[10], right=[PAGE_W + 20], top=[5], bottom=[45],
        fill_color="white", line_color="#cccccc", line_width=1.5)
leg_src = ColumnDataSource(dict(
    x0=legend_swatch_x, x1=[x + swatch_len for x in legend_swatch_x],
    xm=[x + swatch_len / 2 for x in legend_swatch_x], y=[row_y] * 5,
    color=colors, marker=markers, size=marker_sizes, angle=marker_angles,
    tx=legend_text_x, label=series_names))
lg.segment(x0="x0", y0="y", x1="x1", y1="y", source=leg_src, line_color="color", line_width=2)
lg.scatter(x="xm", y="y", source=leg_src, marker="marker", size="size", angle="angle",
           fill_color="color", line_color="color")
lg.text(x="tx", y="y", text="label", source=leg_src, text_font=value(FONT),
        text_font_size=value("22px"), text_color=INK, text_baseline="middle", text_align="left")

top = make_panel(core_series, "Платформа с Core", -0.067, 1.594,
                 [0.0, 0.25, 0.5, 0.75, 1.0, 1.25, 1.5], "%.2f",
                 height=655, top=182, frame_h=424, title_standoff=82, ylab_standoff=8)
bottom = make_panel(bdw_series, "Платформа с Broadwell", -0.35, 8.51,
                    [0, 2, 4, 6, 8], "%d",
                    height=574, top=92, frame_h=435, title_standoff=58, ylab_standoff=13)

layout = column(lg, top, x_label(26, 26), bottom, x_label(27, 22))
open("out.html", "w").write(file_html(layout, INLINE))
